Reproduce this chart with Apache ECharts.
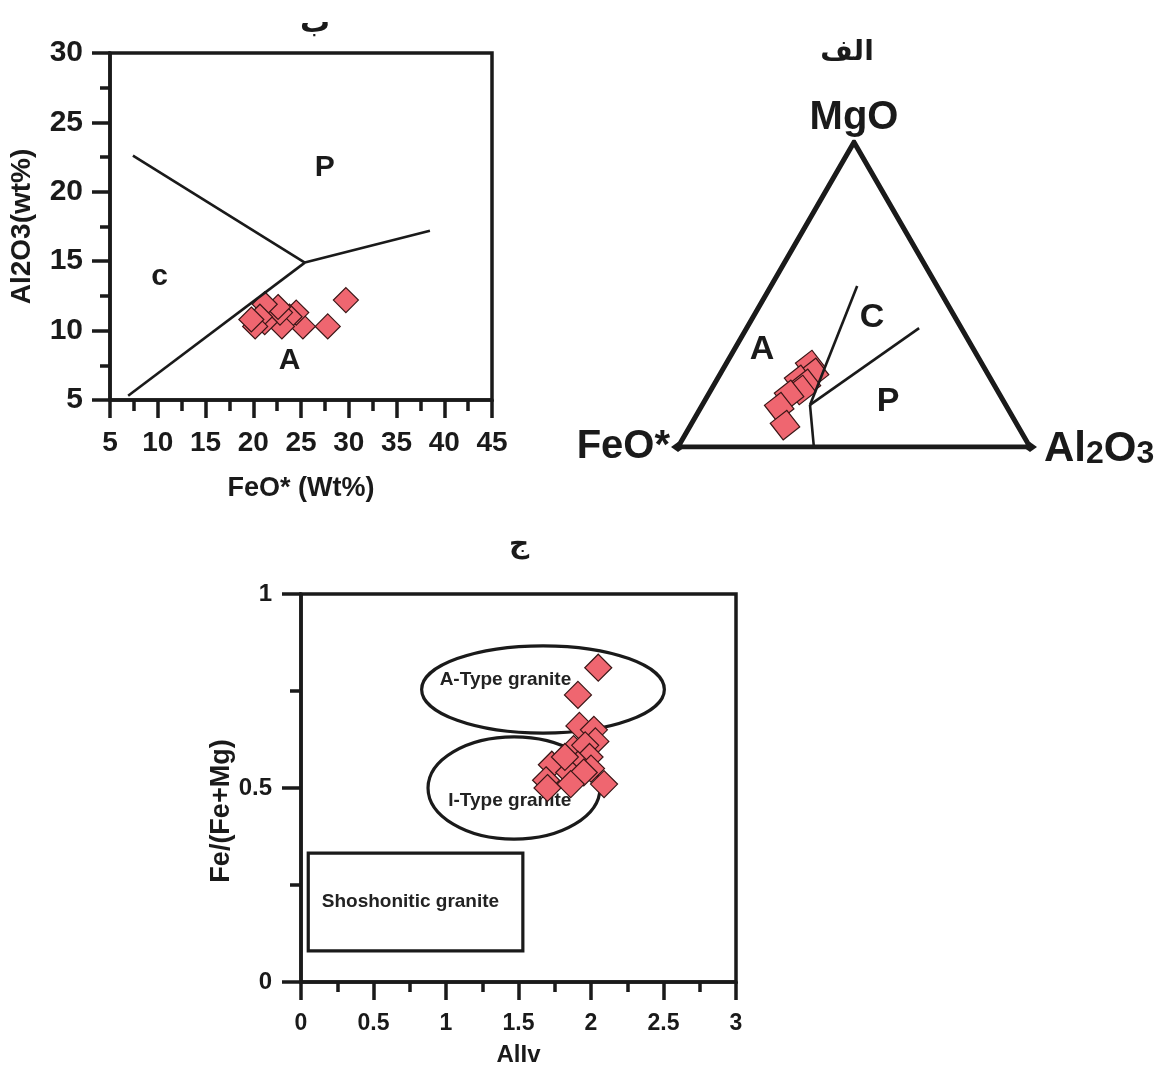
<!DOCTYPE html>
<html>
<head>
<meta charset="utf-8">
<script src="https://cdn.jsdelivr.net/npm/echarts@6/dist/echarts.min.js"></script>
<style>
html, body { margin: 0; padding: 0; background: #fff; }
#main { width: 1165px; height: 1068px; }
</style>
</head>
<body>
<div id="main"></div>
<script>
// --- chart "ب" : FeO* vs Al2O3 ---
var feoAlPoints = [[29.7, 12.2], [27.8, 10.3], [25.2, 10.3], [24.5, 11.3], [23.8, 11.0],
    [23.0, 10.3], [22.8, 11.3], [22.6, 11.7], [21.2, 11.9], [21.2, 10.6],
    [20.7, 11.0], [20.2, 10.3], [19.8, 10.8]];
var lineCP = [[7.4, 22.6], [25.4, 14.9]];
var lineCA = [[6.9, 5.3], [25.4, 14.9]];
var lineAP = [[25.4, 14.9], [38.5, 17.2]];
var fieldLabelsB = [{ name: 'P', value: [27.5, 21.7] }, { name: 'c', value: [10.2, 13.9] }, { name: 'A', value: [23.8, 7.8] }];

// --- chart "الف" : ternary FeO* - Al2O3 - MgO, values as [FeO*, Al2O3, MgO] ---
var ternaryPoints = [[49.0, 24.1, 26.9], [49.2, 26.5, 24.3], [54.6, 23.4, 22.0], [53.3, 26.0, 20.7],
    [55.7, 25.6, 18.7], [59.9, 23.0, 17.1], [64.7, 22.2, 13.1], [66.0, 26.8, 7.2]];
var ternaryJunction = [55.6, 30.6, 13.8];
var ternaryEnds = [[22.7, 24.5, 52.8], [12.0, 49.0, 39.0], [61.4, 38.6, 0]];
var ternaryFieldLabels = [{ name: 'A', comp: [60.2, 8.0, 31.8] }, { name: 'C', comp: [23.7, 34.0, 42.3] }, { name: 'P', comp: [32.9, 52.3, 14.8] }];

// --- chart "ج" : AlIv vs Fe/(Fe+Mg) ---
var alivPoints = [[2.05, 0.81], [1.91, 0.74], [1.92, 0.66], [2.02, 0.65], [2.03, 0.62], [1.88, 0.60],
    [1.96, 0.61], [1.99, 0.58], [1.91, 0.56], [1.73, 0.56], [1.85, 0.54], [2.00, 0.55],
    [1.95, 0.54], [1.69, 0.52], [1.86, 0.51], [1.70, 0.50], [2.09, 0.51], [1.82, 0.58]];
var ellipseFields = [[1.669, 0.754, 0.837, 0.1125], [1.469, 0.5, 0.593, 0.132]]; // cx, cy, rx, ry
var shoshoniticBox = [[0.05, 0.332, 1.53, 0.08]];
var fieldLabelsC = [{ name: 'A-Type granite', value: [1.41, 0.78] }, { name: 'I-Type granite', value: [1.44, 0.466] }, { name: 'Shoshonitic granite', value: [0.755, 0.207] }];

var INK = '#1a1a1a';
var PINK = '#EF6670';
var EDGE = '#3a1616';
var FONT = '"Liberation Sans", Arial, sans-serif';
var H = Math.sqrt(3) / 2;

function tern(c) {
    var s = c[0] + c[1] + c[2];
    var al = c[1] / s * 100, mg = c[2] / s * 100;
    return [al + mg / 2, mg * H];
}

function axisStyle(w) {
    return { show: true, lineStyle: { color: INK, width: w } };
}

var chart = echarts.init(document.getElementById('main'));

var option = {
    backgroundColor: '#fff',
    animation: false,
    title: [
        { text: 'ب', left: 310, top: 4, textAlign: 'center', textStyle: { fontFamily: 'DejaVu Sans', fontSize: 30, fontWeight: 'bold', color: INK } },
        { text: 'الف', left: 842, top: 34, textAlign: 'center', textStyle: { fontFamily: 'DejaVu Sans', fontSize: 28, fontWeight: 'bold', color: INK } },
        { text: 'ج', left: 514, top: 526, textAlign: 'center', textStyle: { fontFamily: 'DejaVu Sans', fontSize: 28, fontWeight: 'bold', color: INK } }
    ],
    grid: [
        { left: 110, top: 53, width: 382, height: 347, show: true, borderColor: INK, borderWidth: 3.5, backgroundColor: 'transparent' },
        { left: 678, top: 447 - 352 * H, width: 352, height: 352 * H },
        { left: 301, top: 594, width: 435, height: 390, show: true, borderColor: INK, borderWidth: 3.5, backgroundColor: 'transparent' }
    ],
    xAxis: [
        {
            gridIndex: 0, type: 'value', min: 5, max: 45, interval: 5,
            name: 'FeO* (Wt%)', nameLocation: 'middle', nameGap: 75,
            nameTextStyle: { fontFamily: FONT, fontSize: 27, fontWeight: 'bold', color: INK },
            axisLine: axisStyle(3.5),
            axisTick: { show: true, length: 18, lineStyle: { color: INK, width: 3.5 } },
            minorTick: { show: true, splitNumber: 2, length: 11, lineStyle: { color: INK, width: 3.5 } },
            axisLabel: { margin: 29, fontFamily: FONT, fontSize: 28, fontWeight: 'bold', color: INK },
            splitLine: { show: false }
        },
        { gridIndex: 1, type: 'value', min: 0, max: 100, show: false },
        {
            gridIndex: 2, type: 'value', min: 0, max: 3, interval: 0.5,
            name: 'AlIv', nameLocation: 'middle', nameGap: 61,
            nameTextStyle: { fontFamily: FONT, fontSize: 24, fontWeight: 'bold', color: INK },
            axisLine: axisStyle(3.5),
            axisTick: { show: true, length: 18, lineStyle: { color: INK, width: 3.5 } },
            minorTick: { show: true, splitNumber: 2, length: 10, lineStyle: { color: INK, width: 3.5 } },
            axisLabel: { margin: 30, fontFamily: FONT, fontSize: 23, fontWeight: 'bold', color: INK },
            splitLine: { show: false }
        }
    ],
    yAxis: [
        {
            gridIndex: 0, type: 'value', min: 5, max: 30, interval: 5,
            name: 'Al2O3(wt%)', nameLocation: 'middle', nameGap: 74, nameRotate: 90,
            nameTextStyle: { fontFamily: FONT, fontSize: 28, fontWeight: 'bold', color: INK },
            axisLine: axisStyle(3.5),
            axisTick: { show: true, length: 18, lineStyle: { color: INK, width: 3.5 } },
            minorTick: { show: true, splitNumber: 2, length: 10, lineStyle: { color: INK, width: 3.5 } },
            axisLabel: { margin: 27, fontFamily: FONT, fontSize: 30, fontWeight: 'bold', color: INK },
            splitLine: { show: false }
        },
        { gridIndex: 1, type: 'value', min: 0, max: 100 * H, show: false },
        {
            gridIndex: 2, type: 'value', min: 0, max: 1, interval: 0.5,
            name: 'Fe/(Fe+Mg)', nameLocation: 'middle', nameGap: 66, nameRotate: 90,
            nameTextStyle: { fontFamily: FONT, fontSize: 27, fontWeight: 'bold', color: INK, padding: [0, 46, 0, 0] },
            axisLine: axisStyle(3.5),
            axisTick: { show: true, length: 19, lineStyle: { color: INK, width: 3.5 } },
            minorTick: { show: true, splitNumber: 2, length: 11, lineStyle: { color: INK, width: 3.5 } },
            axisLabel: { margin: 29, fontFamily: FONT, fontSize: 24, fontWeight: 'bold', color: INK },
            splitLine: { show: false }
        }
    ],
    series: []
};

var labelItem = { opacity: 1, color: 'transparent' };

// chart b: field boundaries, samples, field names
[lineCP, lineCA, lineAP].forEach(function (seg) {
    option.series.push({
        type: 'line', xAxisIndex: 0, yAxisIndex: 0, data: seg, symbol: 'none',
        lineStyle: { color: INK, width: 2.6 }, silent: true
    });
});
option.series.push({
    type: 'scatter', xAxisIndex: 0, yAxisIndex: 0, data: feoAlPoints,
    symbol: 'diamond', symbolSize: 25,
    itemStyle: { color: PINK, borderColor: EDGE, borderWidth: 1.2, opacity: 1 }
});
option.series.push({
    type: 'scatter', xAxisIndex: 0, yAxisIndex: 0, data: fieldLabelsB, symbolSize: 0, itemStyle: labelItem,
    label: { show: true, position: 'inside', formatter: '{b}', fontFamily: FONT, fontSize: 30, fontWeight: 'bold', color: INK }
});

// ternary: frame, boundaries, samples, labels
option.series.push({
    type: 'line', xAxisIndex: 1, yAxisIndex: 1, symbol: 'none',
    data: [tern([100, 0, 0]), tern([0, 100, 0]), tern([0, 0, 100]), tern([100, 0, 0])],
    lineStyle: { color: INK, width: 5, join: 'miter' }, silent: true
});
option.series.push({
    type: 'scatter', xAxisIndex: 1, yAxisIndex: 1, symbol: 'diamond', symbolSize: [14, 10],
    data: [tern([100, 0, 0]), tern([0, 100, 0])], itemStyle: { color: INK, opacity: 1 }
});
ternaryEnds.forEach(function (end) {
    option.series.push({
        type: 'line', xAxisIndex: 1, yAxisIndex: 1, symbol: 'none',
        data: [tern(ternaryJunction), tern(end)],
        lineStyle: { color: INK, width: 2.6 }, silent: true
    });
});
option.series.push({
    type: 'scatter', xAxisIndex: 1, yAxisIndex: 1, symbol: 'rect', symbolSize: 21, symbolRotate: 38,
    data: ternaryPoints.map(tern),
    itemStyle: { color: PINK, borderColor: EDGE, borderWidth: 1.2, opacity: 1 }
});
option.series.push({
    type: 'scatter', xAxisIndex: 1, yAxisIndex: 1, symbolSize: 0, itemStyle: labelItem,
    data: ternaryFieldLabels.map(function (d) { return { name: d.name, value: tern(d.comp) }; }),
    label: { show: true, position: 'inside', formatter: '{b}', fontFamily: FONT, fontSize: 34, fontWeight: 'bold', color: INK }
});
option.series.push({
    type: 'scatter', xAxisIndex: 1, yAxisIndex: 1, symbolSize: 0, itemStyle: labelItem,
    data: [
        { name: 'MgO', value: tern([0, 0, 100]), label: { position: 'top', distance: 4, formatter: 'MgO' } },
        { name: 'FeO*', value: tern([100, 0, 0]), label: { position: 'left', distance: 8, formatter: 'FeO*' } },
        { name: 'Al2O3', value: tern([0, 100, 0]), label: { position: 'right', distance: 14, formatter: '{a|Al}{s|2}{a|O}{s|3}' } }
    ],
    label: {
        show: true, fontFamily: FONT, fontSize: 40, fontWeight: 'bold', color: INK,
        rich: {
            a: { fontFamily: FONT, fontSize: 42, fontWeight: 'bold', color: INK, verticalAlign: 'bottom', lineHeight: 46 },
            s: { fontFamily: FONT, fontSize: 32, fontWeight: 'bold', color: INK, verticalAlign: 'bottom', lineHeight: 46, padding: [12, 0, 0, 0] }
        }
    }
});

// chart ج: fields and samples
option.series.push({
    type: 'custom', xAxisIndex: 2, yAxisIndex: 2, data: ellipseFields, silent: true,
    renderItem: function (params, api) {
        var c = api.coord([api.value(0), api.value(1)]);
        var s = api.size([api.value(2), api.value(3)]);
        return { type: 'ellipse', shape: { cx: c[0], cy: c[1], rx: s[0], ry: s[1] }, style: { fill: 'none', stroke: INK, lineWidth: 3.2 } };
    }
});
option.series.push({
    type: 'custom', xAxisIndex: 2, yAxisIndex: 2, data: shoshoniticBox, silent: true,
    renderItem: function (params, api) {
        var p1 = api.coord([api.value(0), api.value(1)]);
        var p2 = api.coord([api.value(2), api.value(3)]);
        return { type: 'rect', shape: { x: p1[0], y: p1[1], width: p2[0] - p1[0], height: p2[1] - p1[1] }, style: { fill: 'none', stroke: INK, lineWidth: 3.2 } };
    }
});
option.series.push({
    type: 'scatter', xAxisIndex: 2, yAxisIndex: 2, symbolSize: 0, data: fieldLabelsC, z: 1, itemStyle: labelItem,
    label: { show: true, position: 'inside', formatter: '{b}', fontFamily: FONT, fontSize: 19, fontWeight: 'bold', color: '#222' }
});
option.series.push({
    type: 'scatter', xAxisIndex: 2, yAxisIndex: 2, data: alivPoints, z: 3,
    symbol: 'diamond', symbolSize: 27,
    itemStyle: { color: PINK, borderColor: EDGE, borderWidth: 1.2, opacity: 1 }
});

chart.setOption(option);
</script>
</body>
</html>
